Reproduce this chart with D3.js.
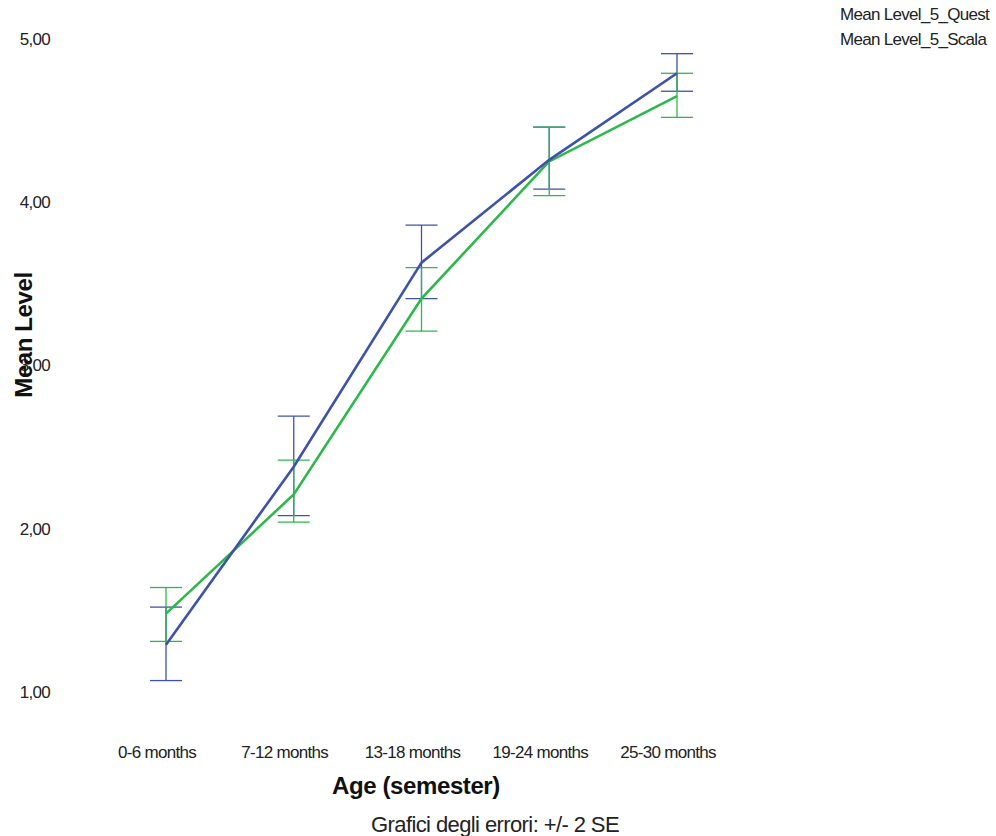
<!DOCTYPE html>
<html>
<head>
<meta charset="utf-8">
<script src="https://cdn.jsdelivr.net/npm/d3@7.9.0/dist/d3.min.js"></script>
<style>
  body { margin: 0; background: #fff; }
  svg { display: block; font-family: "Liberation Sans", Arial, sans-serif; }
  .tick-label { font-size: 17px; fill: #222; letter-spacing: -0.7px; }
</style>
</head>
<body>
<svg id="chart" width="996" height="836"></svg>
<script>
// categories on the x axis
const categories = ['0-6 months', '7-12 months', '13-18 months', '19-24 months', '25-30 months'];
const yTicks = [1, 2, 3, 4, 5];

// Mean Level_5_Quest (blue): mean, lower, upper (+/- 2 SE)
const questMean  = [1.29, 2.38, 3.63, 4.26, 4.79];
const questLower = [1.07, 2.08, 3.41, 4.08, 4.68];
const questUpper = [1.52, 2.69, 3.86, 4.46, 4.91];

// Mean Level_5_Scala (green)
const scalaMean  = [1.48, 2.21, 3.41, 4.25, 4.65];
const scalaLower = [1.31, 2.04, 3.21, 4.04, 4.52];
const scalaUpper = [1.64, 2.42, 3.60, 4.46, 4.79];

const seriesNames = ['Mean Level_5_Quest', 'Mean Level_5_Scala'];
const colors = ['#3d52a8', '#2db84a'];

const svg = d3.select('#chart');

let x = d3.scalePoint().domain(categories).range([166, 677]);
let y = d3.scaleLinear().domain([1, 5]).range([692, 39]);

// y tick labels (no axis line)
svg.append('g').selectAll('text')
  .data(yTicks)
  .join('text')
  .attr('class', 'tick-label')
  .attr('x', 50)
  .attr('y', d => y(d))
  .attr('dy', '0.35em')
  .attr('text-anchor', 'end')
  .text(d => d3.format('.2f')(d).replace('.', ','));

// x tick labels
svg.append('g').selectAll('text')
  .data(categories)
  .join('text')
  .attr('class', 'tick-label')
  .attr('x', d => x(d) - 9)
  .attr('y', 758)
  .attr('text-anchor', 'middle')
  .text(d => d);

// build series from the arrays
const series = [
  { name: seriesNames[0], mean: questMean, lo: questLower, hi: questUpper, color: colors[0] },
  { name: seriesNames[1], mean: scalaMean, lo: scalaLower, hi: scalaUpper, color: colors[1] }
];

const line = d3.line()
  .x((d, i) => x(categories[i]))
  .y(d => y(d));

// error bars
series.forEach(s => {
  let g = svg.append('g').attr('stroke', s.color).attr('stroke-width', 1.3).attr('fill', 'none');
  categories.forEach((c, i) => {
    g.append('line').attr('x1', x(c)).attr('x2', x(c)).attr('y1', y(s.lo[i])).attr('y2', y(s.hi[i]));
    g.append('line').attr('x1', x(c) - 16).attr('x2', x(c) + 16).attr('y1', y(s.lo[i])).attr('y2', y(s.lo[i]));
    g.append('line').attr('x1', x(c) - 16).attr('x2', x(c) + 16).attr('y1', y(s.hi[i])).attr('y2', y(s.hi[i]));
  });
});

// mean lines
[series[1], series[0]].forEach(s => {
  svg.append('path')
    .attr('d', line(s.mean))
    .attr('fill', 'none')
    .attr('stroke', s.color)
    .attr('stroke-width', 2.6);
});

// axis titles
svg.append('text')
  .attr('transform', 'translate(32,335) rotate(-90)')
  .attr('text-anchor', 'middle')
  .attr('font-size', 24)
  .attr('font-weight', 'bold')
  .attr('letter-spacing', '-0.4px')
  .attr('fill', '#111')
  .text('Mean Level');

svg.append('text')
  .attr('x', 416).attr('y', 794)
  .attr('text-anchor', 'middle')
  .attr('font-size', 24)
  .attr('font-weight', 'bold')
  .attr('letter-spacing', '-0.4px')
  .attr('fill', '#111')
  .text('Age (semester)');

svg.append('text')
  .attr('x', 495).attr('y', 832)
  .attr('text-anchor', 'middle')
  .attr('font-size', 22)
  .attr('letter-spacing', '-0.6px')
  .attr('fill', '#222')
  .text('Grafici degli errori: +/- 2 SE');

// legend (text only, as in the reference)
svg.append('g').selectAll('text')
  .data(seriesNames)
  .join('text')
  .attr('class', 'tick-label')
  .attr('x', 840)
  .attr('y', (d, i) => 20 + i * 25)
  .text(d => d);
</script>
</body>
</html>
